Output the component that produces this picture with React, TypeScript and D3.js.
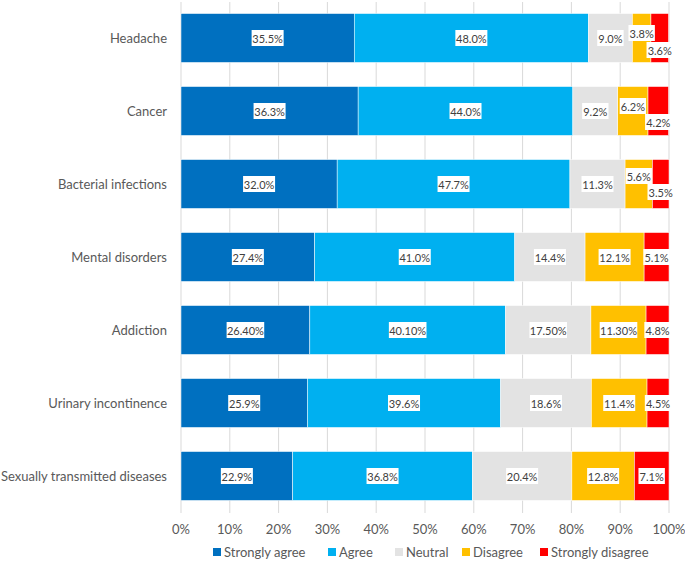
import React from "react";
import * as d3 from "d3";

const categories = [
  "Headache",
  "Cancer",
  "Bacterial infections",
  "Mental disorders",
  "Addiction",
  "Urinary incontinence",
  "Sexually transmitted diseases",
];
const seriesNames = ["Strongly agree", "Agree", "Neutral", "Disagree", "Strongly disagree"];
const stronglyAgree = [35.5, 36.3, 32.0, 27.4, 26.4, 25.9, 22.9];
const agree = [48.0, 44.0, 47.7, 41.0, 40.1, 39.6, 36.8];
const neutral = [9.0, 9.2, 11.3, 14.4, 17.5, 18.6, 20.4];
const disagree = [3.8, 6.2, 5.6, 12.1, 11.3, 11.4, 12.8];
const stronglyDisagree = [3.6, 4.2, 3.5, 5.1, 4.8, 4.5, 7.1];
const labelTexts = [
  ["35.5%", "48.0%", "9.0%", "3.8%", "3.6%"],
  ["36.3%", "44.0%", "9.2%", "6.2%", "4.2%"],
  ["32.0%", "47.7%", "11.3%", "5.6%", "3.5%"],
  ["27.4%", "41.0%", "14.4%", "12.1%", "5.1%"],
  ["26.40%", "40.10%", "17.50%", "11.30%", "4.8%"],
  ["25.9%", "39.6%", "18.6%", "11.4%", "4.5%"],
  ["22.9%", "36.8%", "20.4%", "12.8%", "7.1%"],
];
const xTicks = [0, 10, 20, 30, 40, 50, 60, 70, 80, 90, 100];

const colors = ["#0070C0", "#00B0F0", "#E3E3E3", "#FFC000", "#FF0000"];
// vertical label shifts for narrow segments (disagree, strongly disagree)
const smallShift: Record<number, [number, number]> = { 0: [-5, 12], 1: [-5, 11], 2: [-8, 8] };

const W = 685;
const H = 561;
const FONT = "Lato, 'Open Sans', sans-serif";

export default function App() {
  const series = [stronglyAgree, agree, neutral, disagree, stronglyDisagree];
  const x = d3.scaleLinear().domain([0, 100]).range([181, 669]);
  const y = d3.scaleBand<string>().domain(categories).range([1.5, 512.5]).paddingInner(0.33).paddingOuter(0.165);
  const bh = y.bandwidth();

  const segs: any[] = [];
  categories.forEach((c, i) => {
    let acc = 0;
    series.forEach((s, k) => {
      const v = s[i];
      const x0 = Math.min(acc, 100);
      const x1 = Math.min(acc + v, 100);
      segs.push({ c, i, k, x0, x1, label: labelTexts[i][k] });
      acc += v;
    });
  });

  const legendX = [213, 328, 395, 462, 540];

  return (
    <svg width={W} height={H} style={{ position: "absolute", left: 0, top: 0 }} fontFamily={FONT}>
      <rect width={W} height={H} fill="#fff" />
      {xTicks.map((t) => (
        <line key={t} x1={x(t)} x2={x(t)} y1={2} y2={513} stroke="#D9D9D9" strokeWidth={1} />
      ))}
      {segs.map((s, j) => (
        <rect
          key={j}
          x={x(s.x0)}
          y={y(s.c)!}
          width={x(s.x1) - x(s.x0)}
          height={bh}
          fill={colors[s.k]}
          stroke="#fff"
          strokeWidth={0.5}
        />
      ))}
      {segs.map((s, j) => {
        const cx = (x(s.x0) + x(s.x1)) / 2;
        let cy = y(s.c)! + bh / 2;
        const sh = smallShift[s.i];
        if (sh && s.k >= 3) cy += sh[s.k - 3];
        const tw = s.label.length * 5.6 + 4;
        return (
          <g key={"l" + j}>
            <rect x={cx - tw / 2} y={cy - 8} width={tw} height={16} fill="#fff" />
            <text x={cx} y={cy} textAnchor="middle" dominantBaseline="central" fontSize={11} fill="#404040">
              {s.label}
            </text>
          </g>
        );
      })}
      {categories.map((c) => (
        <text key={c} x={167} y={y(c)! + bh / 2} textAnchor="end" dominantBaseline="central" fontSize={13} fill="#595959">
          {c}
        </text>
      ))}
      {xTicks.map((t) => (
        <text key={"t" + t} x={x(t)} y={529} textAnchor="middle" dominantBaseline="central" fontSize={13} fill="#595959">
          {t + "%"}
        </text>
      ))}
      {seriesNames.map((n, k) => (
        <g key={n}>
          <rect x={legendX[k]} y={548} width={8} height={8} fill={colors[k]} />
          <text x={legendX[k] + 11} y={552} dominantBaseline="central" fontSize={13} fill="#595959">
            {n}
          </text>
        </g>
      ))}
    </svg>
  );
}
